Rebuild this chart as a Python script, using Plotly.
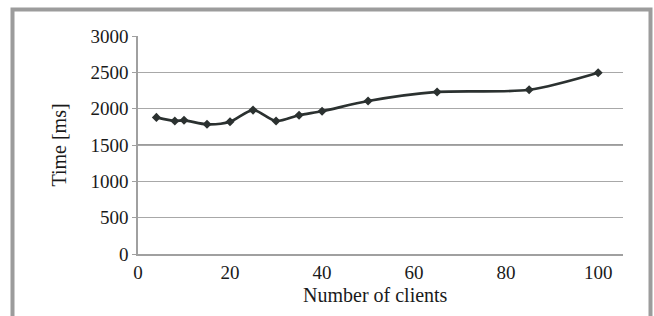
import plotly.graph_objects as go

clients = [4, 8, 10, 15, 20, 25, 30, 35, 40, 50, 65, 85, 100]
time_ms = [1880, 1830, 1840, 1785, 1820, 1980, 1830, 1910, 1965, 2105, 2230, 2260, 2495]

x_ticks = [0, 20, 40, 60, 80, 100]
y_ticks = [0, 500, 1000, 1500, 2000, 2500, 3000]

x_title = "Number of clients"
y_title = "Time [ms]"

W, H = 654, 316
L, R, T, B = 138, 31, 36, 62
pw, ph = W - L - R, H - T - B

def px_to_paper_x(px):
    return (px - L) / pw

def px_to_paper_y(py):
    return (H - B - py) / ph

FAM = "Liberation Serif"

fig = go.Figure()
fig.add_trace(go.Scatter(
    x=clients, y=time_ms, mode="lines+markers",
    line=dict(color="#2b3130", width=2.7, shape="spline", smoothing=0.8),
    marker=dict(symbol="diamond", size=7, color="#2b3130"),
    showlegend=False,
))

fig.add_hline(y=1500, line=dict(color="#3a3a3a", width=1.2), layer="below")

fig.add_shape(type="rect", xref="paper", yref="paper",
              x0=px_to_paper_x(12.5), x1=px_to_paper_x(650.5),
              y0=px_to_paper_y(340), y1=px_to_paper_y(9.5),
              line=dict(color="#9c9c9c", width=4), fillcolor="rgba(0,0,0,0)",
              layer="below")

fig.add_annotation(text=x_title, xref="paper", yref="paper",
                   x=px_to_paper_x(375), y=px_to_paper_y(295),
                   xanchor="center", yanchor="middle", showarrow=False,
                   font=dict(family=FAM, size=20, color="#1a1a1a"))

fig.update_layout(
    width=W, height=H,
    margin=dict(l=L, r=R, t=T, b=B),
    paper_bgcolor="white", plot_bgcolor="white",
    font=dict(family=FAM, size=19, color="#1a1a1a"),
    xaxis=dict(range=[0, 105.4], tickvals=x_ticks, showgrid=False,
               showline=True, linecolor="#a0a0a0", linewidth=1.5,
               zeroline=False, ticks="", ticklen=0,
               tickfont=dict(family=FAM, size=19, color="#1a1a1a")),
    yaxis=dict(range=[0, 3000], tickvals=y_ticks, showgrid=True,
               gridcolor="#a8a8a8", gridwidth=1,
               showline=True, linecolor="#a0a0a0", linewidth=1.5,
               zeroline=False, ticks="outside", ticklen=4, tickcolor="#a0a0a0",
               title=dict(text=y_title, standoff=18,
                          font=dict(family=FAM, size=20, color="#1a1a1a")),
               tickfont=dict(family=FAM, size=19, color="#1a1a1a")),
)

fig.write_html("out.html", config={"displayModeBar": False},
               post_script="document.body.style.margin='0';document.body.style.overflow='hidden';")
